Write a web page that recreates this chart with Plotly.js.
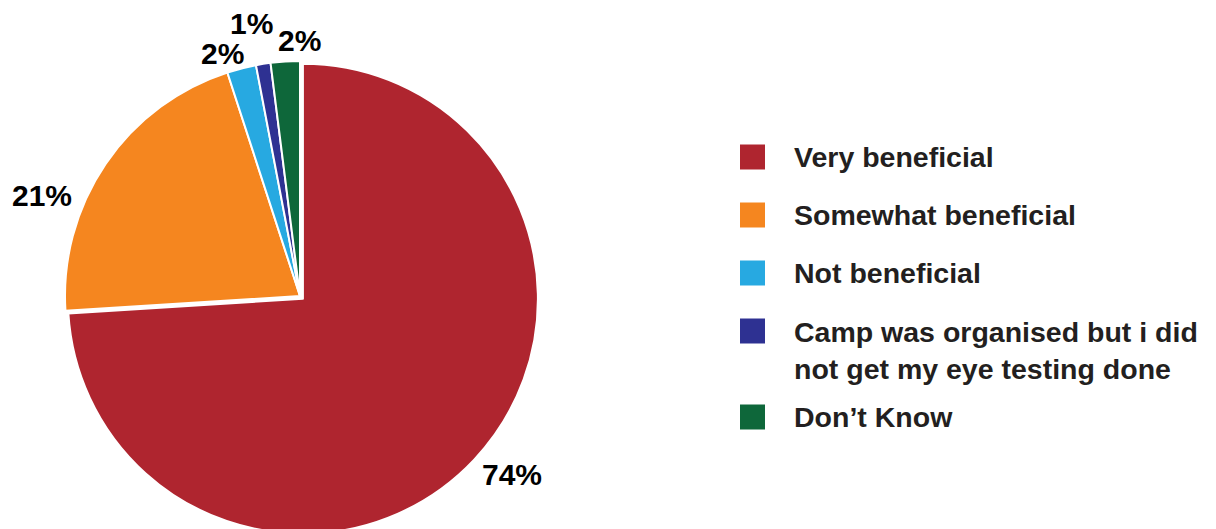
<!DOCTYPE html>
<html>
<head>
<meta charset="utf-8">
<script src="https://cdn.plot.ly/plotly-3.0.1.min.js"></script>
<style>
html,body{margin:0;padding:0;background:#fff;overflow:hidden;}
#chart{width:1216px;height:560px;}
</style>
</head>
<body>
<div id="chart"></div>
<script>
// Data
const categories = [
  "Very beneficial",
  "Somewhat beneficial",
  "Not beneficial",
  "Camp was organised but i did<br>not get my eye testing done",
  "Don\u2019t Know"
];
const values = [74, 21, 2, 1, 2];
const colors = ["#AF252F", "#F5861F", "#27A9E1", "#2E3192", "#0E673A"];
const pulls = [0.017, 0, 0, 0, 0];

// Layout constants
const W = 1216, H = 560;
const FONT = "Liberation Sans, Arial, sans-serif";
const CX = 300, CY = 296, HALF = 239;          // pie box centre / half size (px)
// percentage-label placement (angle nudge in degrees, distance from centre in px)
const labelAngleShift = [-3, -13, -3.4, -1, 3.4];
const labelDist = [277, 277, 255, 277, 256];

const trace = {
  type: "pie",
  labels: categories,
  values: values,
  sort: false,
  direction: "clockwise",
  rotation: 0,
  pull: pulls,
  marker: {colors: colors, line: {color: "#ffffff", width: 2}},
  textinfo: "none",
  domain: {x: [(CX - HALF) / W, (CX + HALF) / W], y: [(H - CY - HALF) / H, (H - CY + HALF) / H]},
  showlegend: false,
  hoverinfo: "label+percent"
};

const shapes = [];
const annotations = [];

// Percentage labels placed from the cumulative slice angles
const total = values.reduce((a, b) => a + b, 0);
let cum = 0;
values.forEach((v, i) => {
  const mid = 360 * (cum + v / 2) / total + labelAngleShift[i];
  cum += v;
  const rad = mid * Math.PI / 180;
  const px = CX + labelDist[i] * Math.sin(rad);
  const py = CY - labelDist[i] * Math.cos(rad);
  annotations.push({
    xref: "paper", yref: "paper", x: px / W, y: (H - py) / H,
    xanchor: "center", yanchor: "middle", showarrow: false,
    text: Math.round(100 * v / total) + "%",
    font: {family: FONT, size: 30, color: "#000000", weight: "bold"}
  });
});

// Legend drawn from the category / colour arrays
let extra = 0;
categories.forEach((lab, i) => {
  const lines = lab.split("<br>").length;
  const cy = 157 + 58 * i + extra;           // marker centre (px from top)
  const ty = cy + (lines - 1) * 19;          // text block centre
  shapes.push({
    type: "rect", xref: "paper", yref: "paper",
    x0: 740 / W, x1: 765 / W,
    y0: (H - (cy - 12.5)) / H, y1: (H - (cy + 12.5)) / H,
    fillcolor: colors[i], line: {width: 0}
  });
  annotations.push({
    xref: "paper", yref: "paper",
    x: 792 / W, y: (H - ty) / H,
    xanchor: "left", yanchor: "middle", align: "left",
    showarrow: false, text: lab,
    font: {family: FONT, size: 28.5, color: "#231F20", weight: "bold"}
  });
  extra += (lines - 1) * 28;
});

const layout = {
  width: W, height: H,
  margin: {l: 0, r: 0, t: 0, b: 0},
  paper_bgcolor: "#ffffff",
  showlegend: false,
  shapes: shapes,
  annotations: annotations
};

Plotly.newPlot("chart", [trace], layout, {displayModeBar: false, staticPlot: true});
</script>
</body>
</html>
